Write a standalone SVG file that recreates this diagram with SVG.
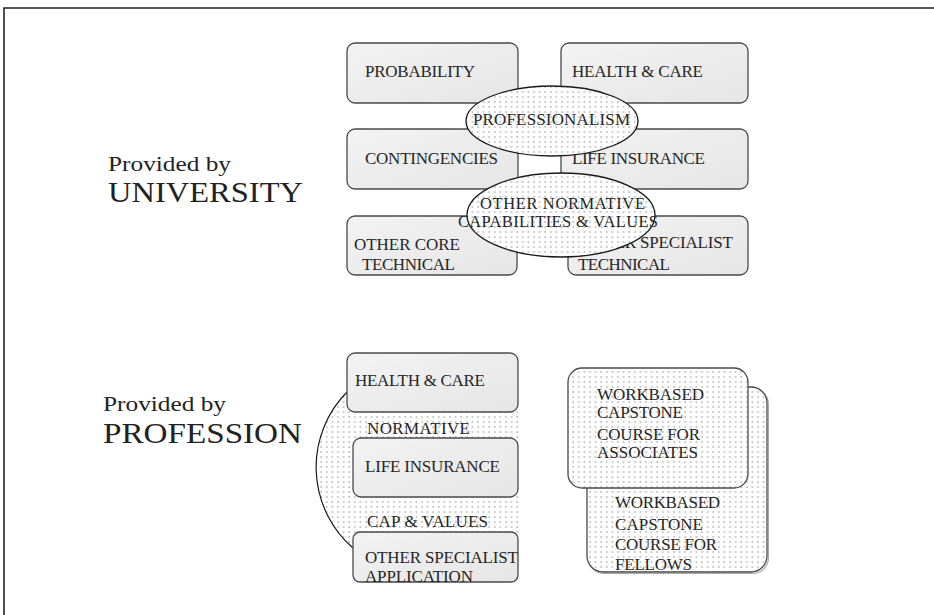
<svg xmlns="http://www.w3.org/2000/svg" width="934" height="615" viewBox="0 0 934 615">
<defs>
<pattern id="dots" width="5.6" height="5" patternUnits="userSpaceOnUse">
<rect width="5.6" height="5" fill="#ffffff"/>
<circle cx="2" cy="2" r="0.75" fill="#8c8c8c"/>
</pattern>
<linearGradient id="boxfill" x1="0" y1="0" x2="1" y2="1">
<stop offset="0" stop-color="#f3f3f3"/>
<stop offset="0.5" stop-color="#ececec"/>
<stop offset="1" stop-color="#e6e6e6"/>
</linearGradient>
</defs>
<style>
.box{fill:url(#boxfill);stroke:#4a4a4a;stroke-width:1.3}
.dbox{fill:url(#dots);stroke:#4a4a4a;stroke-width:1.3}
.ell{fill:url(#dots);stroke:#1a1a1a;stroke-width:1.3}
.t{font-family:"Liberation Serif","Times New Roman",serif;font-size:17px;fill:#262626}
.s{font-family:"Liberation Serif","Times New Roman",serif;font-size:16.5px;fill:#262626}
.big{font-family:"Liberation Serif","Times New Roman",serif;fill:#222}
</style>
<rect width="934" height="615" fill="#ffffff"/>
<g id="frame">
<polyline points="4,615 4,8 934,8" fill="none" stroke="#222" stroke-width="1.6"/>
</g>
<g id="connectors"/>

<g id="label-university">
<text class="big" x="108" y="171" font-size="22" textLength="123" lengthAdjust="spacingAndGlyphs">Provided by</text>
<text class="big" x="108" y="202" font-size="30" textLength="195" lengthAdjust="spacingAndGlyphs">UNIVERSITY</text>
</g>
<g id="label-profession">
<text class="big" x="103" y="411" font-size="22" textLength="123" lengthAdjust="spacingAndGlyphs">Provided by</text>
<text class="big" x="103" y="443" font-size="30" textLength="199" lengthAdjust="spacingAndGlyphs">PROFESSION</text>
</g>

<g id="u-probability">
<rect class="box" x="347" y="43" width="171" height="60" rx="8"/>
<text class="t" x="365" y="77" textLength="110" lengthAdjust="spacing">PROBABILITY</text>
</g>
<g id="u-health">
<rect class="box" x="561" y="43" width="187" height="60" rx="8"/>
<text class="t" x="572" y="77" textLength="131" lengthAdjust="spacing">HEALTH &amp; CARE</text>
</g>
<g id="u-contingencies">
<rect class="box" x="347" y="129" width="171" height="60" rx="8"/>
<text class="t" x="365" y="164" textLength="133" lengthAdjust="spacing">CONTINGENCIES</text>
</g>
<g id="u-life">
<rect class="box" x="561" y="129" width="187" height="60" rx="8"/>
<text class="t" x="572" y="164" textLength="133" lengthAdjust="spacing">LIFE INSURANCE</text>
</g>
<g id="u-othercore">
<rect class="box" x="347" y="216" width="170" height="59" rx="8"/>
<text class="t" x="354" y="250" textLength="106" lengthAdjust="spacing">OTHER CORE</text>
<text class="t" x="362" y="270" textLength="93" lengthAdjust="spacing">TECHNICAL</text>
</g>
<g id="u-otherspec">
<rect class="box" x="568" y="216" width="180" height="59" rx="8"/>
<text class="t" x="580" y="248" textLength="153" lengthAdjust="spacing">OTHER SPECIALIST</text>
<text class="t" x="578" y="270" textLength="92" lengthAdjust="spacing">TECHNICAL</text>
</g>
<g id="u-professionalism">
<ellipse class="ell" cx="552" cy="121" rx="86" ry="35"/>
<text class="t" x="473" y="125" textLength="157" lengthAdjust="spacing">PROFESSIONALISM</text>
</g>
<g id="u-normative">
<ellipse class="ell" cx="561" cy="215" rx="94" ry="42"/>
<text class="s" x="480" y="209" textLength="165" lengthAdjust="spacing">OTHER NORMATIVE</text>
<text class="s" x="458" y="227" textLength="200" lengthAdjust="spacing">CAPABILITIES &amp; VALUES</text>
</g>

<g id="p-normative">
<path d="M347,392 A107,107 0 0 0 353,548 L518,548 L518,392 Z" fill="url(#dots)" stroke="none"/>
<path d="M347,392 A107,107 0 0 0 353,548" fill="none" stroke="#1a1a1a" stroke-width="1.2"/>
<text class="t" x="367" y="434" textLength="103" lengthAdjust="spacing">NORMATIVE</text>
<text class="t" x="367" y="527" textLength="121" lengthAdjust="spacing">CAP &amp; VALUES</text>
</g>
<g id="p-health">
<rect class="box" x="347" y="353" width="171" height="59" rx="8"/>
<text class="t" x="355" y="386" textLength="130" lengthAdjust="spacing">HEALTH &amp; CARE</text>
</g>
<g id="p-life">
<rect class="box" x="353" y="438" width="165" height="59" rx="8"/>
<text class="t" x="365" y="472" textLength="135" lengthAdjust="spacing">LIFE INSURANCE</text>
</g>
<g id="p-otherspec">
<rect class="box" x="353" y="532" width="165" height="50" rx="7"/>
<text class="t" x="365" y="563" textLength="153" lengthAdjust="spacing">OTHER SPECIALIST</text>
<text class="t" x="365" y="582" textLength="108" lengthAdjust="spacing">APPLICATION</text>
</g>

<g id="p-fellows">
<rect x="588.5" y="388.5" width="180" height="185" rx="16" fill="none" stroke="#aaa" stroke-width="1.2"/>
<rect class="dbox" x="587" y="387" width="180" height="185" rx="16"/>
<text class="t" x="615" y="508" textLength="105" lengthAdjust="spacing">WORKBASED</text>
<text class="t" x="615" y="530" textLength="88" lengthAdjust="spacing">CAPSTONE</text>
<text class="t" x="615" y="550" textLength="102" lengthAdjust="spacing">COURSE FOR</text>
<text class="t" x="615" y="570" textLength="77" lengthAdjust="spacing">FELLOWS</text>
</g>
<g id="p-associates">
<rect class="dbox" x="568" y="368" width="180" height="120" rx="14"/>
<text class="t" x="597" y="400" textLength="107" lengthAdjust="spacing">WORKBASED</text>
<text class="t" x="597" y="418" textLength="86" lengthAdjust="spacing">CAPSTONE</text>
<text class="t" x="597" y="440" textLength="103" lengthAdjust="spacing">COURSE FOR</text>
<text class="t" x="597" y="458" textLength="101" lengthAdjust="spacing">ASSOCIATES</text>
</g>
</svg>
